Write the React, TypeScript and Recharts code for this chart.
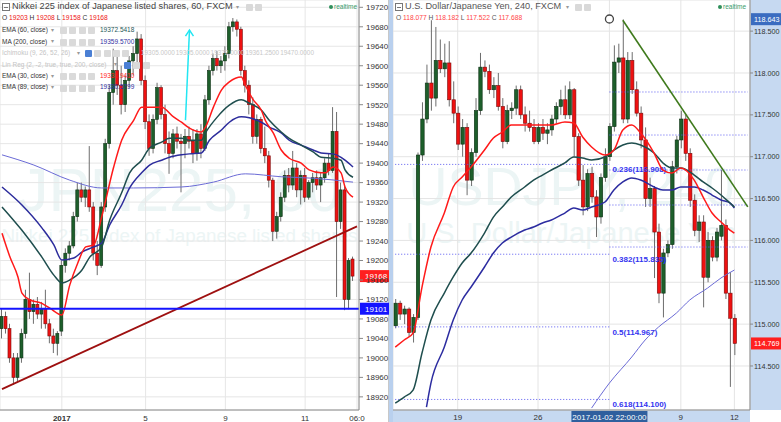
import React from "react";
import {
  ComposedChart,
  Bar,
  Line,
  XAxis,
  YAxis,
  CartesianGrid,
  ReferenceLine,
  ReferenceDot,
} from "recharts";

type Pt = [number, number];
type Ohlc = [number, number, number, number];

const FONT = "'Liberation Sans', Arial, sans-serif";

// ---------- Nikkei 225 (JPN225), 60 min — [open, high, low, close]
const nkCandles: Ohlc[] = [
  [19060, 19100, 19040, 19085], [19085, 19095, 19050, 19060], [19060, 19070, 18990, 19000],
  [19000, 19010, 18945, 18960], [18960, 19010, 18950, 19000], [19000, 19060, 18990, 19050],
  [19050, 19140, 19040, 19120], [19120, 19175, 19080, 19095], [19095, 19120, 19070, 19110],
  [19110, 19125, 19080, 19090], [19090, 19115, 19060, 19100], [19100, 19140, 19060, 19070],
  [19070, 19080, 19030, 19045], [19045, 19060, 19010, 19030], [19030, 19055, 19005, 19050],
  [19055, 19200, 19045, 19190], [19190, 19225, 19175, 19215], [19215, 19240, 19200, 19230],
  [19230, 19300, 19225, 19290], [19290, 19360, 19280, 19345], [19345, 19360, 19320, 19330],
  [19330, 19352, 19310, 19345], [19345, 19435, 19300, 19310], [19310, 19320, 19200, 19215],
  [19215, 19240, 19170, 19190], [19190, 19320, 19185, 19310], [19310, 19450, 19300, 19440],
  [19440, 19560, 19430, 19545], [19545, 19635, 19520, 19590], [19590, 19620, 19540, 19560],
  [19560, 19600, 19500, 19520], [19520, 19580, 19505, 19570], [19570, 19620, 19555, 19610],
  [19610, 19640, 19580, 19625], [19625, 19670, 19600, 19655], [19655, 19665, 19560, 19570],
  [19570, 19580, 19470, 19485], [19485, 19500, 19415, 19430], [19430, 19500, 19420, 19490],
  [19490, 19565, 19480, 19555], [19555, 19560, 19490, 19500], [19500, 19520, 19420, 19440],
  [19440, 19465, 19378, 19420], [19420, 19470, 19410, 19460], [19460, 19475, 19430, 19445],
  [19445, 19460, 19340, 19440], [19440, 19470, 19410, 19455], [19455, 19475, 19430, 19445],
  [19445, 19470, 19400, 19420], [19420, 19470, 19405, 19460], [19460, 19480, 19410, 19430],
  [19430, 19540, 19425, 19530], [19530, 19600, 19520, 19590], [19590, 19625, 19580, 19615],
  [19615, 19630, 19590, 19600], [19600, 19620, 19585, 19610], [19610, 19640, 19590, 19625],
  [19625, 19690, 19615, 19680], [19680, 19698, 19670, 19690], [19690, 19695, 19660, 19675],
  [19675, 19680, 19580, 19590], [19590, 19600, 19545, 19560], [19560, 19570, 19500, 19520],
  [19520, 19535, 19440, 19455], [19455, 19500, 19440, 19490], [19490, 19495, 19420, 19430],
  [19430, 19475, 19400, 19415], [19415, 19425, 19350, 19365], [19365, 19370, 19240, 19260],
  [19260, 19300, 19245, 19290], [19290, 19340, 19280, 19330], [19330, 19385, 19320, 19375],
  [19375, 19390, 19340, 19355], [19355, 19425, 19345, 19390], [19390, 19400, 19330, 19345],
  [19345, 19385, 19315, 19375], [19375, 19390, 19320, 19330], [19330, 19365, 19325, 19360],
  [19360, 19380, 19340, 19370], [19370, 19385, 19345, 19355], [19355, 19380, 19320, 19370],
  [19370, 19410, 19360, 19400], [19400, 19420, 19375, 19385], [19385, 19515, 19380, 19465],
  [19465, 19505, 19125, 19280], [19280, 19360, 19265, 19345], [19345, 19355, 19098, 19120],
  [19120, 19205, 19100, 19200], [19203, 19208, 19158, 19168],
];
const nkSlots = 90;
const nkDomain: Pt = [18893, 19735];
const nkPriceTicks = [
  18920, 18960, 19000, 19040, 19080, 19120, 19160, 19200, 19240, 19280, 19320,
  19360, 19400, 19440, 19480, 19520, 19560, 19600, 19640, 19680, 19720,
];
const nkTimeTicks = [15, 36, 56, 76, 89];
const nkTimeLabels = ["2017", "5", "9", "11", "06:0"];

const nkEma30: Pt[] = [
  [0, 19256], [2, 19207], [4, 19166], [5, 19133], [7, 19119], [10, 19112], [12, 19102],
  [15, 19088], [17, 19150], [19, 19195], [21, 19228], [23, 19232], [25, 19290], [28, 19392],
  [30, 19447], [33, 19488], [35, 19515], [38, 19515], [40, 19515], [43, 19495], [45, 19484],
  [47, 19472], [50, 19464], [51, 19474], [53, 19515], [55, 19550], [57, 19567], [60, 19577],
  [61, 19560], [63, 19530], [65, 19509], [66, 19488], [68, 19462], [70, 19427], [72, 19410],
  [75, 19400], [77, 19386], [80, 19380], [81, 19380], [83, 19392], [85, 19380], [86, 19351],
  [88, 19330],
];
const nkEma60: Pt[] = [
  [0, 19310], [5, 19262], [10, 19207], [13, 19170], [15, 19154], [17, 19160], [20, 19180],
  [22, 19207], [25, 19228], [27, 19283], [30, 19339], [32, 19380], [35, 19406], [37, 19431],
  [40, 19443], [42, 19451], [45, 19451], [47, 19447], [50, 19447], [51, 19462], [54, 19495],
  [57, 19519], [60, 19530], [62, 19523], [65, 19509], [67, 19488], [70, 19464], [72, 19451],
  [75, 19437], [78, 19423], [80, 19412], [83, 19410], [85, 19406], [86, 19386], [88, 19371],
];
const nkEma89: Pt[] = [
  [0, 19351], [5, 19314], [10, 19267], [13, 19232], [15, 19201], [18, 19205], [20, 19217],
  [23, 19228], [25, 19236], [27, 19273], [30, 19314], [32, 19349], [35, 19380], [37, 19396],
  [40, 19406], [42, 19412], [45, 19417], [47, 19419], [50, 19421], [52, 19447], [55, 19468],
  [57, 19484], [60, 19495], [62, 19493], [65, 19484], [67, 19474], [70, 19462], [72, 19447],
  [75, 19437], [78, 19427], [80, 19421], [83, 19419], [85, 19412], [86, 19406], [88, 19392],
];
const nkMa200: Pt[] = [
  [0, 19417], [8, 19396], [17, 19365], [25, 19349], [33, 19349], [45, 19351], [53, 19361],
  [61, 19378], [70, 19372], [78, 19369], [88, 19361],
];
const nkTrend: Pt[] = [[0, 18936], [89, 19270]];
const nkArrow: Pt[] = [[46, 19488], [47, 19673]];
const nkSupport = 19101;
const nkLast = 19168;

const nkStudies = [
  { name: "EMA (60, close)", value: "19372.5418", color: "#1e5757" },
  { name: "MA (200, close)", value: "19359.5700", color: "#2f2fa0" },
  { name: "Ichimoku (9, 26, 52, 26)", faded: true, icons: 5 },
  { name: "Lin Reg (2, -2, true, true, 200, close)", faded: true, icons: 3 },
  { name: "EMA (30, close)", value: "19331.9410", color: "#ff1a1a" },
  { name: "EMA (89, close)", value: "19330.5799", color: "#2f2fa0" },
];
const nkIchimokuValues = ["19305.0000", "19305.0000", "19372.0000", "19361.2500", "19470.0000"];

// ---------- USDJPY, 240 min — [open, high, low, close]
const ujCandles: Ohlc[] = [
  [114.98, 115.3, 114.95, 115.25], [115.25, 115.28, 115.05, 115.12], [115.12, 115.22, 115.0, 115.18],
  [115.18, 115.2, 114.85, 114.9], [114.9, 115.12, 114.78, 115.08], [115.08, 117.05, 115.05, 117.02],
  [117.02, 117.65, 116.95, 117.45], [117.45, 118.1, 117.4, 117.88], [117.88, 118.63, 117.55, 117.7],
  [117.7, 118.55, 117.6, 118.15], [118.15, 118.4, 118.0, 118.05], [118.05, 118.35, 117.95, 118.12],
  [118.12, 118.38, 117.6, 117.68], [117.68, 117.9, 117.4, 117.52], [117.52, 117.6, 117.08, 117.15],
  [117.15, 117.45, 117.0, 117.35], [117.35, 117.4, 116.54, 116.72], [116.72, 117.1, 116.65, 117.05],
  [117.05, 117.7, 117.0, 117.55], [117.55, 118.24, 117.5, 118.07], [118.07, 118.15, 117.95, 118.02],
  [118.02, 118.1, 117.75, 117.8], [117.8, 117.95, 117.7, 117.85], [117.85, 118.0, 117.55, 117.6],
  [117.6, 117.7, 117.1, 117.18], [117.18, 117.62, 117.15, 117.55], [117.55, 117.65, 117.45, 117.58],
  [117.58, 117.85, 117.5, 117.8], [117.8, 117.85, 117.45, 117.5], [117.5, 117.6, 117.3, 117.4],
  [117.4, 117.55, 117.3, 117.35], [117.35, 117.45, 117.15, 117.18], [117.18, 117.4, 117.15, 117.35],
  [117.35, 117.45, 117.2, 117.28], [117.28, 117.4, 117.15, 117.32], [117.32, 117.5, 117.25, 117.45],
  [117.45, 117.65, 117.4, 117.6], [117.6, 117.8, 117.5, 117.68], [117.68, 117.85, 117.45, 117.5],
  [117.5, 117.9, 117.45, 117.8], [117.8, 117.82, 117.0, 117.24], [117.24, 117.28, 116.65, 116.72],
  [116.72, 116.9, 116.3, 116.4], [116.4, 116.85, 116.35, 116.8], [116.8, 116.88, 116.45, 116.52],
  [116.52, 116.6, 116.04, 116.28], [116.28, 116.8, 116.2, 116.75], [116.75, 117.1, 116.7, 117.0],
  [117.0, 117.4, 116.95, 117.36], [117.36, 118.33, 117.3, 118.13], [118.13, 118.35, 118.0, 118.18],
  [118.18, 118.64, 117.4, 117.45], [117.45, 118.25, 117.4, 118.15], [118.15, 118.25, 117.75, 117.8],
  [117.8, 117.9, 117.48, 117.52], [117.52, 117.6, 117.1, 117.2], [117.2, 117.35, 116.4, 116.5],
  [116.5, 116.75, 116.4, 116.62], [116.62, 116.65, 115.55, 116.1], [116.1, 116.2, 115.25, 115.37],
  [115.37, 115.9, 115.08, 115.85], [115.85, 116.0, 115.8, 115.95], [115.95, 116.95, 115.9, 116.88],
  [116.88, 117.25, 116.8, 117.2], [117.2, 117.55, 117.1, 117.45], [117.45, 117.5, 116.95, 117.04],
  [117.04, 117.1, 116.4, 116.48], [116.48, 116.55, 116.05, 116.12], [116.12, 116.3, 115.98, 116.22],
  [116.22, 116.3, 115.2, 115.56], [115.56, 116.1, 115.5, 116.0], [116.0, 116.05, 115.75, 115.8],
  [115.8, 116.15, 115.75, 116.1], [116.05, 116.84, 116.0, 116.18], [116.18, 116.25, 115.3, 115.37],
  [115.37, 115.62, 114.25, 115.07], [115.07, 115.12, 114.63, 114.77],
];
const ujSlots = 80;
const ujDomain: Pt = [113.974, 118.872];
const ujPriceTicks = [114.5, 115, 115.5, 116, 116.5, 117, 117.5, 118, 118.5];
const ujTimeTicks = [14, 32, 48, 64, 76];
const ujTimeLabels = ["19", "26", "2017-01-02 22:00:00", "9", "12"];

const ujEmaFast: Pt[] = [
  [0, 114.726], [2, 114.81], [4, 114.893], [6, 115.443], [8, 115.921], [11, 116.327],
  [13, 116.638], [15, 116.757], [17, 116.877], [20, 117.08], [22, 117.223], [24, 117.295],
  [26, 117.379], [29, 117.379], [31, 117.379], [33, 117.379], [35, 117.379], [38, 117.414],
  [40, 117.402], [42, 117.235], [44, 117.116], [47, 117.02], [49, 117.08], [51, 117.319],
  [53, 117.379], [55, 117.283], [58, 117.044], [60, 116.841], [62, 116.805], [64, 116.865],
  [67, 116.721], [69, 116.518], [71, 116.327], [73, 116.22], [75, 116.124], [76, 116.088],
];
const ujEmaMid: Pt[] = [
  [0, 114.057], [2, 114.129], [4, 114.212], [6, 114.655], [8, 115.049], [11, 115.371],
  [13, 115.563], [15, 115.73], [17, 115.849], [20, 116.088], [22, 116.279], [24, 116.399],
  [26, 116.518], [29, 116.638], [31, 116.721], [33, 116.781], [35, 116.841], [38, 116.925],
  [40, 116.996], [42, 116.984], [44, 116.96], [47, 116.996], [49, 117.08], [51, 117.14],
  [53, 117.164], [55, 117.14], [58, 117.044], [60, 116.925], [62, 116.865], [64, 116.865],
  [67, 116.781], [69, 116.698], [71, 116.626], [73, 116.542], [75, 116.447], [76, 116.399],
];
const ujEmaSlow: Pt[] = [
  [7, 114.009], [8, 114.296], [11, 114.726], [13, 115.049], [15, 115.288], [17, 115.443],
  [20, 115.682], [22, 115.849], [24, 115.969], [26, 116.04], [29, 116.124], [31, 116.16],
  [33, 116.208], [35, 116.244], [38, 116.327], [40, 116.387], [42, 116.363], [44, 116.399],
  [47, 116.459], [49, 116.602], [51, 116.698], [53, 116.745], [55, 116.721], [58, 116.638],
  [60, 116.602], [62, 116.602], [64, 116.638], [67, 116.638], [69, 116.602], [71, 116.542],
  [73, 116.483], [75, 116.447], [76, 116.387],
];
const ujMa200: Pt[] = [
  [44, 113.997], [48, 114.296], [53, 114.607], [56, 114.81], [59, 114.965], [63, 115.132],
  [66, 115.288], [70, 115.431], [73, 115.551], [76, 115.646],
];
const ujTrend: Pt[] = [[51, 118.63], [79, 116.4]];
const ujAnchor: Pt = [48, 118.645];
const ujFibA = [116.908, 115.835, 114.967, 114.1];
const ujFibALabels = ["0.236(116.908)", "0.382(115.835)", "0.5(114.967)", "0.618(114.100)"];
const ujFibASpan: Pt = [0, 48];
const ujFibB = [117.773, 117.259, 116.841, 116.423, 115.921];
const ujFibBSpan: Pt = [48, 79];
const ujHigh = 118.643;
const ujLast = 114.769;

// ---------- helpers
function buildRows(slots: number, candles: Ohlc[], lines: Record<string, Pt[]>) {
  const rows: any[] = [];
  for (let i = 0; i < slots; i++) {
    const k = candles[i];
    rows.push(k ? { i, o: k[0], h: k[1], l: k[2], c: k[3], range: [k[2], k[1]] } : { i });
  }
  Object.entries(lines).forEach(([key, pts]) => pts.forEach(([i, v]) => (rows[i][key] = v)));
  return rows;
}

const nkRows = buildRows(nkSlots, nkCandles, { ema30: nkEma30, ema60: nkEma60, ema89: nkEma89, ma200: nkMa200 });
const ujRows = buildRows(ujSlots, ujCandles, { fast: ujEmaFast, mid: ujEmaMid, slow: ujEmaSlow, ma200: ujMa200 });

function Candle(props: any) {
  const { x, y, width, height, payload } = props;
  if (!payload || payload.o == null || !height) return <g />;
  const { o, h, l, c } = payload;
  const top0 = Math.min(y, y + height);
  const hh = Math.abs(height);
  const py = (v: number) => top0 + ((h - v) / (h - l)) * hh;
  const up = c >= o;
  const top = py(Math.max(o, c));
  const bottom = py(Math.min(o, c));
  const mid = x + width / 2;
  return (
    <g>
      <line x1={mid} x2={mid} y1={top0} y2={top0 + hh} stroke="#6d6d6d" strokeWidth={1} />
      <rect
        x={x}
        y={top}
        width={width}
        height={Math.max(bottom - top, 1)}
        fill={up ? "#1d5f2b" : "#ee1111"}
        stroke={up ? "#0b2e12" : "#7a0b0b"}
        strokeWidth={0.6}
      />
    </g>
  );
}

const PriceTag = ({ viewBox, text, bg, w, fs = 8, pad = 5 }: any) => {
  if (!viewBox) return null;
  const x = viewBox.x + viewBox.width + 1;
  const y = viewBox.y;
  return (
    <g>
      <rect x={x} y={y - 6} width={w} height={12} fill={bg} />
      <text x={x + pad} y={y + 3} fontSize={fs} fill="#fff">{text}</text>
    </g>
  );
};

const FibLabel = ({ viewBox, text }: any) => {
  if (!viewBox) return null;
  return (
    <text x={viewBox.x + viewBox.width + 3} y={viewBox.y + 8} fontSize={8} fontWeight="bold" fill="#3434f0">
      {text}
    </text>
  );
};

const NkTimeTick = ({ x, y, payload }: any) => {
  const k = nkTimeTicks.indexOf(payload.value);
  if (k < 0) return <g />;
  return (
    <text x={x} y={y + 11} textAnchor="middle" fontSize={8} fill="#333" fontWeight={k === 0 ? "bold" : "normal"}>
      {nkTimeLabels[k]}
    </text>
  );
};

const UjTimeTick = ({ x, y, payload }: any) => {
  const k = ujTimeTicks.indexOf(payload.value);
  if (k < 0) return <g />;
  if (k === 2) {
    return (
      <g>
        <rect x={x - 38} y={y + 1} width={76} height={11} fill="#2f5f9e" />
        <text x={x} y={y + 10} textAnchor="middle" fontSize={8} fill="#fff">{ujTimeLabels[k]}</text>
      </g>
    );
  }
  return (
    <text x={x} y={y + 10} textAnchor="middle" fontSize={8} fill="#333">{ujTimeLabels[k]}</text>
  );
};

const Txt = ({ x, y, s, c, w, children }: any) => (
  <div
    style={{
      position: "absolute", left: x, top: y - s * 0.55, fontSize: s, lineHeight: 1,
      color: c, fontWeight: w ?? 400, whiteSpace: "nowrap",
    }}
  >
    {children}
  </div>
);

const Btn = ({ x, y, c = "#d9d9d9" }: any) => (
  <div style={{ position: "absolute", left: x, top: y - 3.5, width: 7, height: 7, background: c, borderRadius: 1 }} />
);

const TitleBox = ({ x, y }: any) => (
  <div style={{ position: "absolute", left: x, top: y, width: 6, height: 6, border: "1px solid #777" }}>
    <div style={{ position: "absolute", left: 1, top: 2.5, width: 4, height: 1, background: "#777" }} />
  </div>
);

const Mark = ({ cx, cy, size, text }: any) => (
  <div
    style={{
      position: "absolute", left: cx - 400, width: 800, top: cy - size * 0.5, fontSize: size,
      lineHeight: 1, textAlign: "center", color: "#ecf5f5", whiteSpace: "nowrap",
    }}
  >
    {text}
  </div>
);

const Realtime = ({ x }: any) => (
  <>
    <div style={{ position: "absolute", left: x, top: 5, width: 4, height: 4, borderRadius: 2, background: "#2f8f5b" }} />
    <Txt x={x + 5} y={7.5} s={6.5} c="#3b9b6b">realtime</Txt>
  </>
);

const lineProps = {
  type: "monotone" as const,
  dot: false,
  activeDot: false,
  connectNulls: true,
  isAnimationActive: false,
};

export default function App() {
  return (
    <div
      style={{
        position: "absolute", left: 0, top: 0, width: 781, height: 422, overflow: "hidden",
        background: "#fff", fontFamily: FONT,
      }}
    >
      {/* panel chrome */}
      <div style={{ position: "absolute", left: 388, top: 0, width: 1, height: 422, background: "#c8c8c8" }} />
      <div style={{ position: "absolute", left: 389, top: 0, width: 4, height: 422, background: "#b9d0ee" }} />
      <div style={{ position: "absolute", left: 393, top: 410, width: 357, height: 12, background: "#c6d9f1" }} />
      <div style={{ position: "absolute", left: 750, top: 0, width: 31, height: 410, background: "#c6d9f1" }} />

      {/* watermarks */}
      <Mark cx={179.5} cy={190} size={62} text="JPN225, 60" />
      <Mark cx={179.5} cy={236} size={18.8} text="Nikkei 225 index of Japanese listed shares" />
      <Mark cx={571.5} cy={186} size={54} text="USDJPY, 240" />
      <Mark cx={571.5} cy={233} size={29} text="U.S. Dollar/Japanese Yen" />

      {/* Nikkei 225, 60 */}
      <div style={{ position: "absolute", left: 0, top: 0 }}>
        <ComposedChart width={389} height={422} data={nkRows} margin={{ top: 0, right: 0, bottom: 0, left: 0 }}>
          <CartesianGrid stroke="#e6e6e6" />
          <XAxis
            dataKey="i"
            ticks={nkTimeTicks}
            interval={0}
            height={12}
            tickSize={0}
            tickMargin={0}
            tickLine={false}
            axisLine={{ stroke: "#8a8a8a" }}
            tick={<NkTimeTick />}
          />
          <YAxis
            orientation="right"
            width={30}
            domain={nkDomain}
            allowDataOverflow
            ticks={nkPriceTicks}
            interval={0}
            tickSize={4}
            tickMargin={3}
            tick={{ fontSize: 8, fill: "#333", textAnchor: "start" }}
            tickLine={{ stroke: "#8a8a8a" }}
            axisLine={{ stroke: "#8a8a8a" }}
          />
          <Bar dataKey="range" barSize={3} shape={<Candle />} isAnimationActive={false} />
          <Line {...lineProps} dataKey="ma200" stroke="#6b6bd6" strokeWidth={1} />
          <Line {...lineProps} dataKey="ema89" stroke="#2c2c9c" strokeWidth={1.5} />
          <Line {...lineProps} dataKey="ema60" stroke="#1f4e4e" strokeWidth={1.5} />
          <Line {...lineProps} dataKey="ema30" stroke="#ff1a1a" strokeWidth={1.5} />
          <ReferenceLine
            segment={[{ x: nkTrend[0][0], y: nkTrend[0][1] }, { x: nkTrend[1][0], y: nkTrend[1][1] }]}
            stroke="#9e1010"
            strokeWidth={1.8}
          />
          <ReferenceLine
            segment={[{ x: nkArrow[0][0], y: nkArrow[0][1] }, { x: nkArrow[1][0], y: nkArrow[1][1] }]}
            stroke="#22e6f2"
            strokeWidth={1.5}
          />
          <ReferenceDot
            x={nkArrow[1][0]}
            y={nkArrow[1][1]}
            r={0}
            shape={(p: any) => (
              <path
                d={`M${p.cx - 4},${p.cy + 6} L${p.cx},${p.cy} L${p.cx + 4},${p.cy + 6}`}
                stroke="#22e6f2"
                strokeWidth={1.5}
                fill="none"
              />
            )}
          />
          <ReferenceLine
            y={nkSupport}
            stroke="#1414ff"
            strokeWidth={2}
            label={<PriceTag text={String(nkSupport)} bg="#1414ff" w={29} />}
          />
          <ReferenceLine
            y={nkLast}
            stroke="none"
            label={<PriceTag text={String(nkLast)} bg="#ff1f1f" w={29} />}
          />
        </ComposedChart>
      </div>

      {/* USDJPY, 240 */}
      <div style={{ position: "absolute", left: 393, top: 0 }}>
        <ComposedChart width={388} height={422} data={ujRows} margin={{ top: 0, right: 0, bottom: 0, left: 0 }}>
          <CartesianGrid stroke="#e4e4e4" />
          <XAxis
            dataKey="i"
            ticks={ujTimeTicks}
            interval={0}
            height={12}
            tickSize={0}
            tickMargin={0}
            tickLine={false}
            axisLine={{ stroke: "#8a8a8a" }}
            tick={<UjTimeTick />}
          />
          <YAxis
            orientation="right"
            width={31}
            domain={ujDomain}
            allowDataOverflow
            ticks={ujPriceTicks}
            interval={0}
            tickSize={3}
            tickMargin={1}
            tickFormatter={(v: number) => v.toFixed(3)}
            tick={{ fontSize: 7.2, fill: "#333", textAnchor: "start" }}
            tickLine={{ stroke: "#8a8a8a" }}
            axisLine={{ stroke: "#8a8a8a" }}
          />
          {ujFibA.map((v, k) => (
            <ReferenceLine
              key={`fa${k}`}
              segment={[{ x: ujFibASpan[0], y: v }, { x: ujFibASpan[1], y: v }]}
              stroke="#5a5af0"
              strokeDasharray="1 2"
              label={<FibLabel text={ujFibALabels[k]} />}
            />
          ))}
          {ujFibB.map((v, k) => (
            <ReferenceLine
              key={`fb${k}`}
              segment={[{ x: ujFibBSpan[0], y: v }, { x: ujFibBSpan[1], y: v }]}
              stroke="#5a5af0"
              strokeDasharray="1 2"
            />
          ))}
          <Bar dataKey="range" barSize={3.4} shape={<Candle />} isAnimationActive={false} />
          <Line {...lineProps} dataKey="ma200" stroke="#6b6bd6" strokeWidth={1} />
          <Line {...lineProps} dataKey="slow" stroke="#2c2ca0" strokeWidth={1.5} />
          <Line {...lineProps} dataKey="mid" stroke="#1f4e4e" strokeWidth={1.5} />
          <Line {...lineProps} dataKey="fast" stroke="#ff1a1a" strokeWidth={1.5} />
          <ReferenceLine
            segment={[{ x: ujTrend[0][0], y: ujTrend[0][1] }, { x: ujTrend[1][0], y: ujTrend[1][1] }]}
            stroke="#3f7a1c"
            strokeWidth={1.6}
          />
          <ReferenceDot x={ujAnchor[0]} y={ujAnchor[1]} r={4} fill="#fff" stroke="#444" strokeWidth={1.3} />
          <ReferenceLine
            y={ujHigh}
            stroke="none"
            label={<PriceTag text={ujHigh.toFixed(3)} bg="#3a6cc0" w={31} fs={7.2} pad={3} />}
          />
          <ReferenceLine
            y={ujLast}
            stroke="none"
            label={<PriceTag text={ujLast.toFixed(3)} bg="#ff1f1f" w={31} fs={7.2} pad={3} />}
          />
        </ComposedChart>
      </div>

      {/* Nikkei legend */}
      <TitleBox x={2} y={3} />
      <Txt x={12} y={7.5} s={9.2} c="#444">Nikkei 225 index of Japanese listed shares, 60, FXCM</Txt>
      <Txt x={236} y={7} s={6} c="#999">▾</Txt>
      <Btn x={246} y={7} />
      <Btn x={255} y={7} />
      <Txt x={2} y={19} s={6.7} c="#333">
        O <span style={{ color: "#ee1111" }}>19203</span> H <span style={{ color: "#ee1111" }}>19208</span> L{" "}
        <span style={{ color: "#ee1111" }}>19158</span> C <span style={{ color: "#ee1111" }}>19168</span>
      </Txt>
      {nkStudies.map((s, k) => {
        const y = 30.7 + k * 11.47;
        const arrowX = s.faded ? (s.icons === 5 ? 77 : 114) : 51;
        const iconX = s.faded ? (s.icons === 5 ? 85 : 124) : 60;
        const n = s.faded ? s.icons! : 4;
        return (
          <React.Fragment key={s.name}>
            <Txt x={2} y={y} s={6.5} c={s.faded ? "#c4c4c4" : "#333"}>{s.name}</Txt>
            <Txt x={arrowX} y={y} s={5.5} c="#999">▾</Txt>
            {Array.from({ length: n }, (_, j) => (
              <Btn key={j} x={iconX + j * 9.3} y={y} c={s.faded && j === 0 ? "#4a7fd4" : "#dadada"} />
            ))}
            {s.value && <Txt x={100} y={y} s={6.5} c={s.color}>{s.value}</Txt>}
          </React.Fragment>
        );
      })}
      {nkIchimokuValues.map((v, j) => (
        <Txt key={j} x={141 + j * 34.8} y={30.7 + 2 * 11.47} s={6.4} c="#c8c8c8">{v}</Txt>
      ))}
      <Realtime x={329} />

      {/* USDJPY legend */}
      <TitleBox x={395} y={3} />
      <Txt x={405} y={7.5} s={9.2} c="#555">U.S. Dollar/Japanese Yen, 240, FXCM</Txt>
      <Txt x={566} y={7} s={6} c="#999">▾</Txt>
      <Btn x={575} y={7} />
      <Btn x={584} y={7} />
      <Txt x={396} y={19} s={6.7} c="#555">
        O <span style={{ color: "#ff4545" }}>118.077</span> H <span style={{ color: "#ff4545" }}>118.182</span> L{" "}
        <span style={{ color: "#ff4545" }}>117.522</span> C <span style={{ color: "#ff4545" }}>117.688</span>
      </Txt>
      <Realtime x={718} />
    </div>
  );
}
